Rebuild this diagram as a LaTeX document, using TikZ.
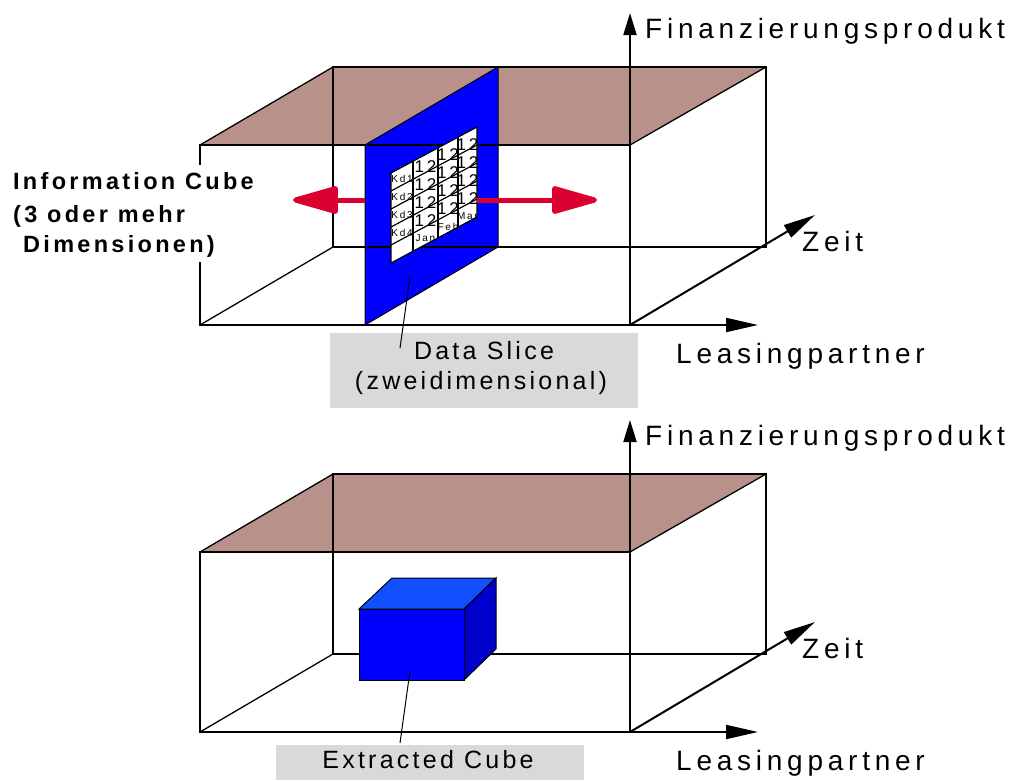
\documentclass[tikz,border=0pt]{standalone}
\usepackage{fontspec}
\setmainfont{Liberation Sans}
\newfontfamily\axisfont[LetterSpace=17]{Liberation Sans}
\newfontfamily\boxfont[LetterSpace=13]{Liberation Sans}
\newfontfamily\infofont[LetterSpace=14]{Liberation Sans}
\usetikzlibrary{arrows.meta}
\definecolor{topbrown}{RGB}{184,145,138}
\definecolor{sliceblue}{RGB}{0,0,255}
\definecolor{xtopblue}{RGB}{16,80,255}
\definecolor{xsideblue}{RGB}{0,0,205}
\definecolor{pushred}{RGB}{218,0,48}
\definecolor{boxgrey}{RGB}{217,217,217}

\begin{document}
\begin{tikzpicture}[
  x=1pt, y=-1pt,
  topface/.style={fill=topbrown},
  edge/.style={draw=black,line width=1.3pt},
  axis/.style={draw=black,line width=2pt},
  axislabel/.style={inner sep=0pt,anchor=base west,font=\axisfont\fontsize{28}{32}\selectfont},
  infolabel/.style={inner sep=0pt,anchor=base west,font=\infofont\bfseries\fontsize{23.5}{28}\selectfont},
  boxlabel/.style={inner sep=0pt,anchor=base,font=\boxfont\fontsize{25}{30}\selectfont},
  greybox/.style={fill=boxgrey,inner sep=0pt},
  gridline/.style={draw=black,line width=1.2pt},
  gridnum/.style={inner sep=0pt,font=\axisfont\fontsize{17}{19}\selectfont},
  kdlabel/.style={inner sep=0pt,font=\axisfont\fontsize{10}{12}\selectfont},
  pointer/.style={draw=black,line width=1pt},
  pusharrow/.style={draw=pushred,line width=5pt,-{Triangle[length=52pt,width=28pt,round]}}
]
\useasboundingbox (0,0) rectangle (1013,780);

% corners of both information cubes
\foreach \oy/\cb in {0/u,407/l}{
  \coordinate (\cb FTL) at (200,145+\oy);
  \coordinate (\cb FTR) at (630,145+\oy);
  \coordinate (\cb FBL) at (200,325+\oy);
  \coordinate (\cb FBR) at (630,325+\oy);
  \coordinate (\cb BTL) at (333,67+\oy);
  \coordinate (\cb BTR) at (766,67+\oy);
  \coordinate (\cb BBL) at (333,247+\oy);
  \coordinate (\cb BBR) at (766,247+\oy);
  \coordinate (\cb Fin) at (630,13+\oy);
  \coordinate (\cb Lea) at (758,325+\oy);
  \coordinate (\cb Zt) at (815,215+\oy);
  \fill[topface] (\cb FTL) -- (\cb BTL) -- (\cb BTR) -- (\cb FTR) -- cycle;
}

% data slice
\coordinate (sFB) at (365,325);
\coordinate (sFT) at (365,145);
\coordinate (sBT) at (498,67);
\coordinate (sBB) at (498,247);
\filldraw[fill=sliceblue,draw=black,line width=1pt] (sFB) -- (sFT) -- (sBT) -- (sBB) -- cycle;

% edges, axes and axis labels
\foreach \oy/\cb in {0/u,407/l}{
  \draw[edge] (\cb FTL) rectangle (\cb FBR);
  \draw[edge] (\cb BTL) rectangle (\cb BBR);
  \draw[edge] (\cb FTL) -- (\cb BTL);
  \draw[edge] (\cb FTR) -- (\cb BTR);
  \draw[edge] (\cb FBL) -- (\cb BBL);
  \draw[axis,-{Triangle[length=22pt,width=13pt]}] (\cb FBR) -- (\cb Fin);
  \draw[axis,-{Triangle[length=32pt,width=14pt]}] (\cb FBL) -- (\cb Lea);
  \draw[axis,-{Triangle[length=32pt,width=14pt]}] (\cb FBR) -- (\cb Zt);
  \node[axislabel] (\cb finlabel) at (645,38+\oy) {Finanzierungsprodukt};
  \node[axislabel] (\cb zeitlabel) at (802,251+\oy) {Zeit};
  \node[axislabel] (\cb lealabel) at (676,363+\oy) {Leasingpartner};
}

% table on the slice
\coordinate (gNW) at (391,173);
\coordinate (gNE) at (477,127);
\coordinate (gSE) at (477,217);
\coordinate (gSW) at (391,263);
\fill[white] (gNW) -- (gNE) -- (gSE) -- (gSW) -- cycle;
\foreach \r in {1,...,4}
  \draw[gridline] (391,173+18*\r) -- (477,127+18*\r);
\foreach \gx in {413,438,458}
  \draw[gridline] (\gx,{173-0.535*(\gx-391)}) -- (\gx,{263-0.535*(\gx-391)});
\draw[gridline] (gNW) -- (gNE) -- (gSE) -- (gSW) -- cycle;
\foreach \lbl [count=\r] in {Kd1,Kd2,Kd3,Kd4}
  \node[kdlabel] (kd\r) at (402,{179+18*(\r-1)}) {\lbl};
\foreach \cx/\mon [count=\c] in {425.5/Jan,448/Feb,467.5/Mar}{
  \foreach \r in {1,...,4}
    \node[gridnum] (num\c\r) at (\cx,{173-0.535*(\cx-391)+18*\r-6}) {12};
  \node[kdlabel] (mon\c) at (\cx,{173-0.535*(\cx-391)+84}) {\mon};
}

% push arrows
\coordinate (pushL) at (365,200);
\coordinate (pushLtip) at (293,200);
\coordinate (pushR) at (477,200);
\coordinate (pushRtip) at (597,200);
\draw[pusharrow] (pushL) -- (pushLtip);
\draw[pusharrow] (pushR) -- (pushRtip);

% information cube label, on white
\node[fill=white,inner sep=0pt,minimum width=255pt,minimum height=97pt] (infobg) at (134.5,213.5) {};
\node[infolabel] (info1) at (13,189) {Information Cube};
\node[infolabel] (info2) at (13,222) {(3 oder mehr};
\node[infolabel] (info3) at (23,252) {Dimensionen)};

% extracted cube
\coordinate (xFTL) at (359,609);
\coordinate (xFTR) at (464,609);
\coordinate (xFBR) at (464,680);
\coordinate (xBTL) at (392,578);
\coordinate (xBTR) at (496,578);
\coordinate (xBBR) at (496,649);
\filldraw[fill=xtopblue,draw=black,line width=1pt] (xFTL) -- (xBTL) -- (xBTR) -- (xFTR) -- cycle;
\filldraw[fill=xsideblue,draw=black,line width=1pt] (xFTR) -- (xBTR) -- (xBBR) -- (xFBR) -- cycle;
\filldraw[fill=sliceblue,draw=black,line width=1pt] (xFTL) rectangle (xFBR);

% caption boxes
\node[greybox,minimum width=308pt,minimum height=75pt] (slicebox) at (484,370.5) {};
\node[boxlabel] (slicetext) at (484,359) {Data Slice};
\node[boxlabel] (slicesub) at (481,389) {(zweidimensional)};
\coordinate (sliceptr) at (410,277);
\coordinate (sliceend) at (400,348);
\draw[pointer] (sliceptr) -- (sliceend);

\node[greybox,minimum width=308pt,minimum height=35pt] (cubebox) at (430,762.5) {};
\node[boxlabel] (cubetext) at (428,768) {Extracted Cube};
\coordinate (cubeptr) at (410,671);
\coordinate (cubeend) at (400,743);
\draw[pointer] (cubeptr) -- (cubeend);
\end{tikzpicture}
\end{document}
